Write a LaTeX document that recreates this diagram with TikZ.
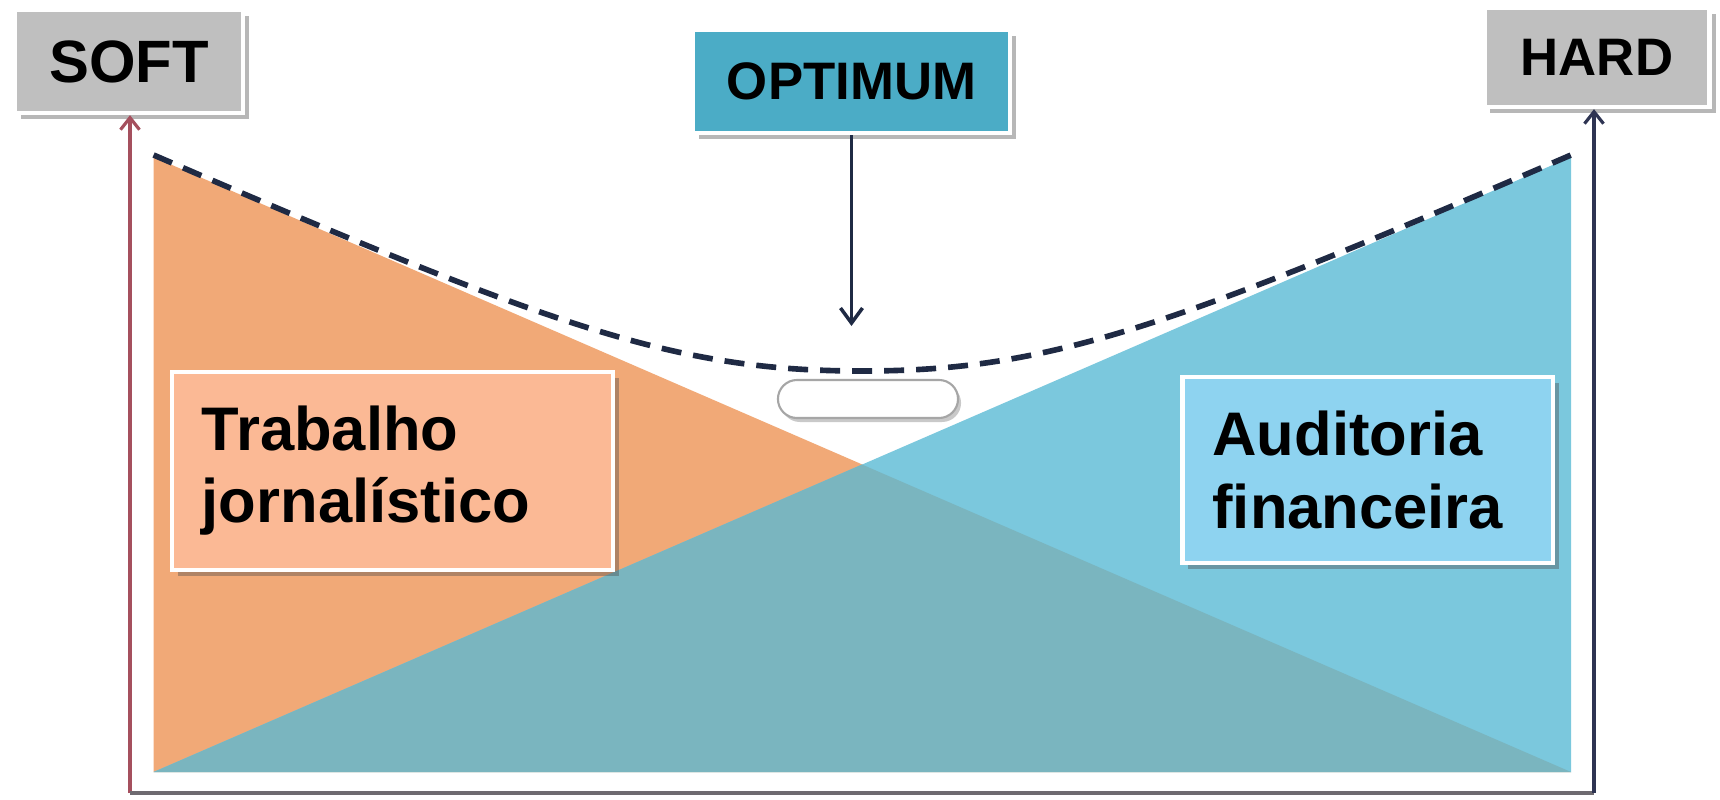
\documentclass[tikz,border=0pt]{standalone}
\usepackage{fontspec}
\setmainfont{Liberation Sans}
\usetikzlibrary{arrows.meta,shadows}
\definecolor{boxgray}{HTML}{BFBFBF}
\definecolor{optfill}{HTML}{4BACC6}
\definecolor{orangetri}{HTML}{F1A977}
\definecolor{bluetri}{HTML}{7BC8DD}
\definecolor{overlap}{HTML}{7AB5BF}
\definecolor{peach}{HTML}{FBB995}
\definecolor{lightblue}{HTML}{8ED3F0}
\definecolor{dashcol}{HTML}{1F2A44}
\definecolor{axisred}{HTML}{A5505E}
\definecolor{axisgray}{HTML}{6E6A70}
\definecolor{axisnavy}{HTML}{2E3452}
\begin{document}
\begin{tikzpicture}[x=0.01cm,y=-0.01cm,
  labelbox/.style={draw=white,line width=1.2pt,
    drop shadow={shadow xshift=0.06cm,shadow yshift=-0.06cm,opacity=0.4,fill=black!70},
    font=\bfseries, text=black, inner sep=0pt, align=center},
  bigbox/.style={labelbox, align=left, font=\bfseries\fontsize{17.5}{20.5}\selectfont},
  axisline/.style={line width=0.9pt,-{Straight Barb[length=1.2mm,width=1.9mm]}},
  optarrow/.style={line width=1pt,draw=dashcol,-{Straight Barb[length=1.5mm,width=2.2mm]}},
  curveline/.style={draw=dashcol,line width=1.6pt,dash pattern=on 0.2cm off 0.12cm}
]
\useasboundingbox (0,0) rectangle (1720,800);
\fill[white] (0,0) rectangle (1720,800);

% triangles
\fill[orangetri] (153.6,157) -- (153.6,772) -- (1571,772) -- cycle;
\fill[bluetri] (1571,157) -- (1571,772) -- (153.6,772) -- cycle;
\fill[overlap] (153.6,772) -- (862,464.5) -- (1571,772) -- cycle;

% dashed curve
\draw[curveline] (153.6,155) .. controls (560,331) and (680,371) .. (862,371)
  .. controls (1044,371) and (1164,331) .. (1571,155);

% label boxes
\node[labelbox, fill=boxgray, minimum width=2.28cm, minimum height=1.03cm,
  font=\bfseries\fontsize{17}{20}\selectfont] (soft) at (129,61.5) {SOFT};
\node[labelbox, fill=boxgray, minimum width=2.25cm, minimum height=0.99cm,
  font=\bfseries\fontsize{15}{18}\selectfont] (hard) at (1597,57.5) {HARD};
\node[labelbox, fill=optfill, minimum width=3.17cm, minimum height=1.03cm,
  font=\bfseries\fontsize{15}{18}\selectfont] (optimum) at (851.5,81.5) {OPTIMUM};

\node[bigbox, fill=peach, minimum width=4.41cm, minimum height=1.98cm,
  text width=3.81cm] (trab) at (392.5,471) {Trabalho\\jornalístico};
\node[bigbox, fill=lightblue, minimum width=3.70cm, minimum height=1.86cm,
  text width=3.10cm] (audit) at (1367.5,470) {Auditoria\\financeira};

\node[draw=black!35, fill=white, rounded corners=0.19cm, line width=0.6pt,
  minimum width=1.80cm, minimum height=0.38cm, inner sep=0pt,
  drop shadow={shadow xshift=0.03cm,shadow yshift=-0.04cm,opacity=0.35,fill=black!60}]
  (pill) at (868,399) {};

% axes
\coordinate (bl) at (130,793);
\coordinate (br) at (1594,793);
\coordinate (optend) at (851.5,326);
\draw[axisline, draw=axisred] (bl) -- (bl |- soft.south);
\draw[line width=0.9pt, draw=axisgray] (bl) -- (br);
\draw[axisline, draw=axisnavy] (br) -- (br |- hard.south);
\draw[optarrow] (optimum.south) -- (optend);
\end{tikzpicture}
\end{document}
